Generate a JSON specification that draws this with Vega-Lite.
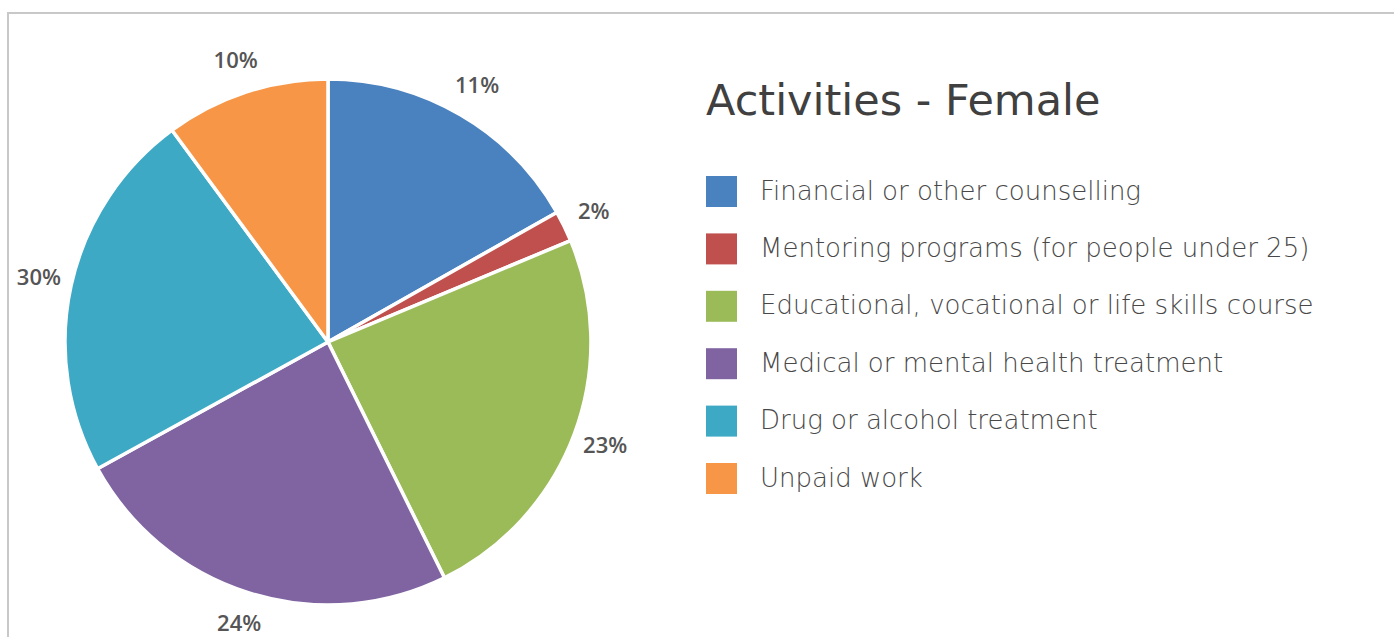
{
  "$schema": "https://vega.github.io/schema/vega-lite/v6.json",
  "autosize": "none",
  "width": 1390,
  "height": 700,
  "padding": {"left": 8, "top": 13, "right": 0, "bottom": 0},
  "background": "white",
  "config": {
    "view": {"stroke": "#c8c8c8", "strokeWidth": 2}
  },
  "data": {
    "values": [
      {"activity": "Financial or other counselling", "share": 16.8, "label": "11%", "rank": 1},
      {"activity": "Mentoring programs (for people under 25)", "share": 1.9, "label": "2%", "rank": 2},
      {"activity": "Educational, vocational or life skills course", "share": 24.0, "label": "23%", "rank": 3},
      {"activity": "Medical or mental health treatment", "share": 24.3, "label": "24%", "rank": 4},
      {"activity": "Drug or alcohol treatment", "share": 22.9, "label": "30%", "rank": 5},
      {"activity": "Unpaid work", "share": 10.1, "label": "10%", "rank": 6}
    ]
  },
  "encoding": {
    "theta": {"field": "share", "type": "quantitative", "stack": true},
    "order": {"field": "rank", "type": "quantitative"},
    "x": {"datum": 0.2302, "type": "quantitative", "scale": {"domain": [0, 1], "nice": false, "zero": false}, "axis": null},
    "y": {"datum": 0.53, "type": "quantitative", "scale": {"domain": [0, 1], "nice": false, "zero": false}, "axis": null}
  },
  "layer": [
    {
      "mark": {"type": "arc", "outerRadius": 263, "stroke": "white", "strokeWidth": 3.5},
      "encoding": {
        "color": {
          "field": "activity",
          "type": "nominal",
          "sort": ["Financial or other counselling", "Mentoring programs (for people under 25)", "Educational, vocational or life skills course", "Medical or mental health treatment", "Drug or alcohol treatment", "Unpaid work"],
          "scale": {
            "domain": ["Financial or other counselling", "Mentoring programs (for people under 25)", "Educational, vocational or life skills course", "Medical or mental health treatment", "Drug or alcohol treatment", "Unpaid work"],
            "range": ["#4A81BF", "#C0504D", "#9BBB59", "#8064A2", "#3DA9C5", "#F79646"]
          },
          "legend": {
            "orient": "none",
            "legendX": 698,
            "legendY": 68,
            "title": "Activities - Female",
            "titleFont": "DejaVu Sans",
            "titleFontSize": 43,
            "titleFontWeight": "normal",
            "titleColor": "#404040",
            "titlePadding": 52,
            "titleLimit": 1000,
            "symbolType": "square",
            "symbolSize": 961,
            "symbolStrokeWidth": 0,
            "symbolOpacity": 1,
            "labelFont": "DejaVu Sans",
            "labelFontSize": 26,
            "labelFontWeight": 200,
            "labelColor": "#484848",
            "labelOffset": 23,
            "labelLimit": 1000,
            "rowPadding": 26.4,
            "padding": 0
          }
        }
      }
    },
    {
      "mark": {"type": "text", "radius": 296, "font": "Open Sans", "fontSize": 22, "fontWeight": 600, "fill": "#555555", "align": "center", "baseline": "middle"},
      "encoding": {
        "text": {"field": "label", "type": "nominal"}
      }
    }
  ]
}
